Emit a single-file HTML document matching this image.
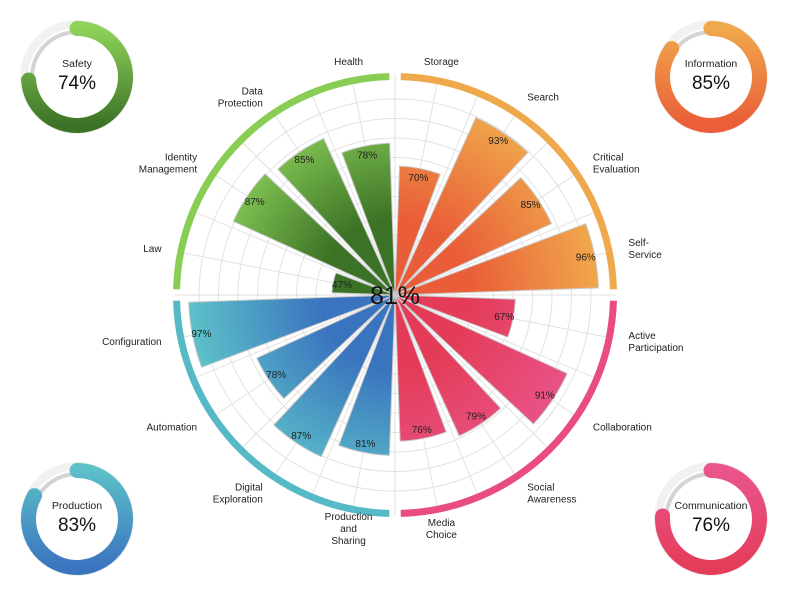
<!DOCTYPE html>
<html><head><meta charset="utf-8"><style>
html,body{margin:0;padding:0;background:#fff;}
svg{display:block;font-family:"Liberation Sans",sans-serif;}
</style></head><body>
<svg id="chart" width="788" height="596" viewBox="0 0 788 596" xmlns="http://www.w3.org/2000/svg">
<defs id="defs"></defs>
<g id="grid"></g>
<g id="bars"></g>
<g id="rings"></g>
<g id="labels"></g>
<g id="vals"></g>
<g id="donuts"></g>
<text x="395" y="304" text-anchor="middle" font-size="25" fill="#111">81%</text>
</svg>
<script>
const categories = ["Storage","Search","Critical Evaluation","Self-Service","Active Participation","Collaboration","Social Awareness","Media Choice","Production and Sharing","Digital Exploration","Automation","Configuration","Law","Identity Management","Data Protection","Health"];
const labelLines = [["Storage"],["Search"],["Critical","Evaluation"],["Self-","Service"],["Active","Participation"],["Collaboration"],["Social","Awareness"],["Media","Choice"],["Production","and","Sharing"],["Digital","Exploration"],["Automation"],["Configuration"],["Law"],["Identity","Management"],["Data","Protection"],["Health"]];
const values = [70,93,85,96,67,91,79,76,81,87,78,97,47,87,85,78];
const groupNames = ["Information","Communication","Production","Safety"];
const groupValues = [85,76,83,74];
const groupLight = ["#f0a84c","#e9558c","#5cc0c8","#8ed25a"];
const groupDark = ["#e95d38","#e43c58","#3a74bf","#3b7226"];
const ringColors = ["#f0a84c","#e94c82","#56bac6","#8acd55"];

const NS="http://www.w3.org/2000/svg";
const cx=395, cy=295, R=215, vMin=25;
function rScale(v){return Math.max(0,(v-vMin)/(100-vMin)*R);}
function aScale(i){return i*22.5;}
function pt(a,r){const t=a*Math.PI/180;return [cx+r*Math.sin(t), cy-r*Math.cos(t)];}
function mk(tag,attrs,parent){const e=document.createElementNS(NS,tag);for(const k in attrs)e.setAttribute(k,attrs[k]);parent.appendChild(e);return e;}
function arcPath(a0,a1,r0,r1){const p0=pt(a0,r1),p1=pt(a1,r1),p2=pt(a1,r0),p3=pt(a0,r0);const lg=(a1-a0)>180?1:0;
 return `M${p0[0]},${p0[1]} A${r1},${r1} 0 ${lg} 1 ${p1[0]},${p1[1]} L${p2[0]},${p2[1]} A${r0},${r0} 0 ${lg} 0 ${p3[0]},${p3[1]} Z`;}
const defs=document.getElementById('defs');
groupLight.forEach((c,g)=>{
 const rg=mk('radialGradient',{id:'bg'+g,gradientUnits:'userSpaceOnUse',cx:cx,cy:cy,r:R},defs);
 mk('stop',{offset:'0.35','stop-color':groupDark[g]},rg);
 mk('stop',{offset:'0.95','stop-color':c},rg);
 const lg=mk('linearGradient',{id:'dg'+g,x1:0,y1:0,x2:0,y2:1},defs);
 mk('stop',{offset:'0','stop-color':c},lg);
 mk('stop',{offset:'1','stop-color':groupDark[g]},lg);
});
// grid
const grid=document.getElementById('grid');
for(let r=40;r<=R;r+=19.5){const c=mk('circle',{cx:cx,cy:cy,r:r,fill:'none',stroke:'#e2e2e2','stroke-width':1},grid);
 }
for(let a=0;a<360;a+=11.25){const p=pt(a,R+6);const l=mk('line',{x1:cx,y1:cy,x2:p[0],y2:p[1],stroke:'#e2e2e2','stroke-width':1},grid);
 }
// bars
const bars=document.getElementById('bars'), vals=document.getElementById('vals'), labels=document.getElementById('labels');
values.forEach((v,i)=>{
 const g=Math.floor(i/4), a0=aScale(i)+2, a1=aScale(i)+20.5, r=rScale(v);
 const p=mk('path',{d:arcPath(a0,a1,0.01,r),fill:`url(#bg${g})`,stroke:'#c8c8c8','stroke-width':1},bars);
 
 
 const am=aScale(i)+11.25, q=pt(am,r-9);
 const t=mk('text',{x:q[0],y:q[1]+3.5,'text-anchor':'middle','font-size':10,fill:'#222'},vals);
 t.textContent=v+'%';
 
 const lp=pt(am,238), s=Math.sin(am*Math.PI/180);
 const anchor=s>0.3?'start':(s<-0.3?'end':'middle');
 const lines=labelLines[i], lh=12, y0=lp[1]+3.5-(lines.length-1)*lh/2;
 const tx=mk('text',{x:lp[0],y:y0,'text-anchor':anchor,'font-size':10,fill:'#222'},labels);
 
 lines.forEach((ln,k)=>{const ts=mk('tspan',{x:lp[0],y:y0+k*lh},tx);ts.textContent=ln;});
});
// rings
const rings=document.getElementById('rings');
ringColors.forEach((c,g)=>{
 const p=mk('path',{d:arcPath(g*90+1.5,g*90+88.5,215,222),fill:c},rings);
 
});
// donuts
const centers=[[711,77],[711,519],[77,519],[77,77]];
const donuts=document.getElementById('donuts');
groupValues.forEach((v,g)=>{
 const [x,y]=centers[g];
 const gg=mk('g',{},donuts);
 
 mk('circle',{cx:x,cy:y,r:53,fill:'none',stroke:'#f1f1f1','stroke-width':8},gg);
 mk('circle',{cx:x,cy:y,r:45,fill:'none',stroke:'#d4d4d4','stroke-width':4},gg);
 const a=v/100*360, r0=41, r1=56, rm=48.5;
 const pt2=(ang,r)=>[x+r*Math.sin(ang*Math.PI/180),y-r*Math.cos(ang*Math.PI/180)];
 const s=pt2(0,rm), e=pt2(a,rm);
 const arc=mk('path',{d:`M${s[0]},${s[1]} A${rm},${rm} 0 ${a>180?1:0} 1 ${e[0]},${e[1]}`,fill:'none',stroke:`url(#dg${g})`,'stroke-width':15,'stroke-linecap':'round'},gg);
 
 const t1=mk('text',{x:x,y:y-10,'text-anchor':'middle','font-size':10.5,fill:'#222'},gg);t1.textContent=groupNames[g];
 
 const t2=mk('text',{x:x,y:y+12,'text-anchor':'middle','font-size':19,fill:'#111'},gg);t2.textContent=v+'%';
 
});
</script>
</body></html>
